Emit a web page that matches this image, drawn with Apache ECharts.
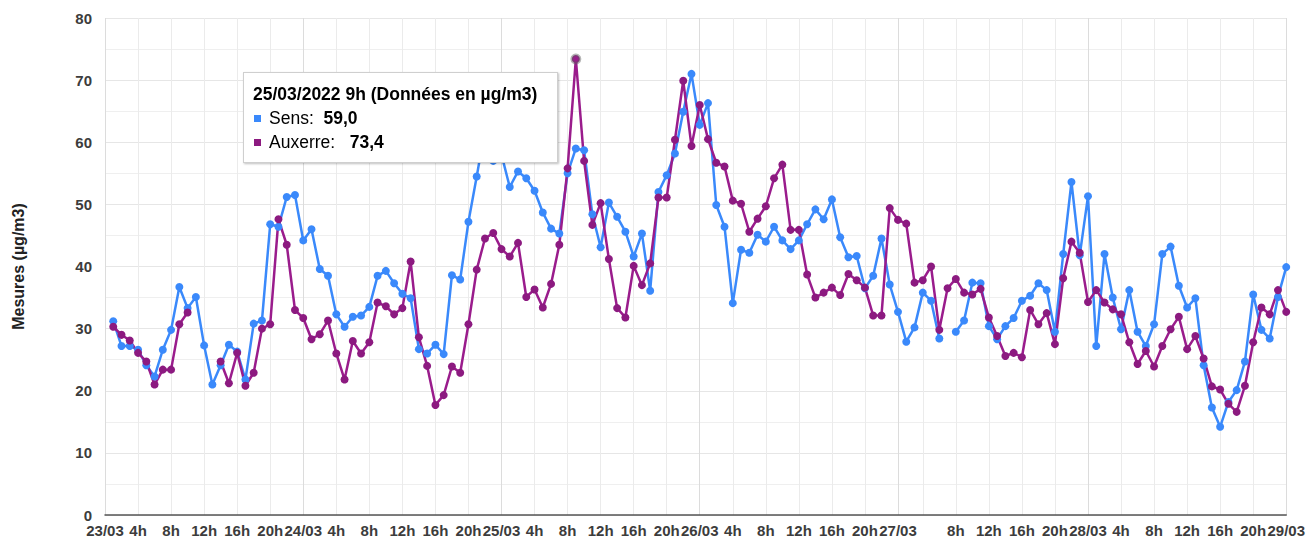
<!DOCTYPE html>
<html><head><meta charset="utf-8">
<script src="https://cdn.jsdelivr.net/npm/echarts@6/dist/echarts.min.js"></script>
<style>html,body{margin:0;padding:0;background:#fff}#c{width:1308px;height:539px}</style>
</head><body><div id="c"></div>
<script>
// Days on the time axis (hourly data, DST change on 27/03 at 2h)
const days = ['23/03', '24/03', '25/03', '26/03', '27/03', '28/03', '29/03'];
const dstSkippedHour = '27/03 2h';
const hiddenTickLabels = ['27/03 4h'];
const tickEveryHours = 4;
const year = '2022';
const seriesNames = ['Sens', 'Auxerre'];
const unitText = 'Données en µg/m3';
const yAxisName = 'Mesures (µg/m3)';
const yTicks = [0, 10, 20, 30, 40, 50, 60, 70, 80];

// Sens hourly values (index 0 = 23/03 0h)
const sens = [null,
  31.2, 27.2, 27.2, 26.6, 24.1, 22.3, 26.6, 29.8, 36.7, 33.3, 35.1, 27.3, 21.0, 24.1, 27.4, 26.3, 21.8, 30.8, 31.3, 46.8, 46.4, 51.2, 51.5, 44.2,
  46.0, 39.6, 38.5, 32.3, 30.3, 31.9, 32.1, 33.5, 38.5, 39.3, 37.3, 35.6, 34.9, 26.7, 26.0, 27.4, 25.9, 38.6, 37.9, 47.2, 54.5, 62.0, 57.0, 58.0,
  52.8, 55.3, 54.2, 52.2, 48.7, 46.1, 45.3, 55.0, 59.0, 58.7, 48.4, 43.1, 50.3, 48.0, 45.6, 41.6, 45.3, 36.1, 52.0, 54.7, 58.2, 64.9, 71.0, 62.8,
  66.3, 49.9, 46.4, 34.1, 42.7, 42.2, 45.1, 44.0, 46.4, 44.2, 42.8, 44.2, 46.8, 49.2, 47.6, 50.8, 44.7, 41.5, 41.7, 36.5, 38.5, 44.5, 37.1, 32.7,
  27.9, 30.2, 35.8, 34.5, 28.4, null, 29.5, 31.3, 37.4, 37.3, 30.4, 28.3, 30.4, 31.7, 34.5, 35.3, 37.3, 36.2, 29.5, 42.0, 53.6, 41.8, 51.3,
  27.2, 42.0, 35.0, 29.9, 36.2, 29.5, 27.2, 30.7, 42.0, 43.2, 36.9, 33.4, 34.9, 24.1, 17.3, 14.2, 18.2, 20.1, 24.7, 35.5, 29.8, 28.4, 35.1, 39.9];

// Auxerre hourly values (index 0 = 23/03 0h)
const auxerre = [null,
  30.3, 29.0, 28.1, 26.1, 24.7, 21.0, 23.4, 23.4, 30.7, 32.6, null, null, null, 24.7, 21.2, 26.1, 20.8, 22.9, 30.0, 30.7, 47.6, 43.5, 33.0, 31.7,
  28.3, 29.1, 31.3, 26.0, 21.8, 28.0, 26.0, 27.8, 34.2, 33.6, 32.3, 33.3, 40.8, 28.6, 24.0, 17.7, 19.3, 23.9, 22.9, 30.7, 39.5, 44.5, 45.4, 42.8,
  41.6, 43.8, 35.1, 36.3, 33.4, 37.2, 43.5, 55.8, 73.4, 57.0, 46.7, 50.2, 41.2, 33.3, 31.8, 40.1, 37.0, 40.5, 51.1, 51.1, 60.4, 69.9, 59.4, 66.0,
  60.5, 56.7, 56.1, 50.6, 50.1, 45.6, 47.7, 49.7, 54.2, 56.4, 45.9, 45.9, 38.7, 35.0, 35.8, 36.6, 35.4, 38.8, 37.8, 36.6, 32.1, 32.1, 49.4, 47.5,
  46.9, 37.4, 37.8, 40.0, 29.8, 36.5, 38.0, 35.8, 35.5, 36.4, 31.8, 28.8, 25.6, 26.1, 25.4, 33.0, 30.7, 32.5, 27.5, 38.1, 44.0, 42.2, 34.3,
  36.2, 34.2, 33.1, 32.3, 27.8, 24.3, 26.4, 23.9, 27.2, 29.9, 31.9, 26.7, 28.8, 25.2, 20.7, 20.2, 17.9, 16.6, 20.8, 27.8, 33.4, 32.3, 36.2, 32.7];

const tooltipIndex = 57; // 25/03 9h

// Build hourly categories (axis categories, not data)
const categories = [];
for (const d of days) {
  for (let h = 0; h < 24; h++) {
    const c = d + ' ' + h + 'h';
    if (c === dstSkippedHour) continue;
    categories.push(c);
    if (d === days[days.length - 1]) break;
  }
}
const dayOf = c => c.split(' ')[0];
const hourOf = c => parseInt(c.split(' ')[1], 10);
const isTick = c => hourOf(c) % tickEveryHours === 0;
const fmt = v => v.toFixed(1).replace('.', ',');

const FONT = "'Liberation Sans', Arial, Helvetica, sans-serif";
const colors = ['#3a89fb', '#8c1a80'];

const chart = echarts.init(document.getElementById('c'), null, {renderer: 'svg'});
chart.setOption({
  animation: false,
  color: colors,
  grid: {left: 105, right: 21, top: 18, bottom: 24, containLabel: false},
  tooltip: {
    trigger: 'item',
    triggerOn: 'none',
    alwaysShowContent: true,
    transitionDuration: 0,
    backgroundColor: '#fff',
    borderColor: '#cfcfcf',
    borderWidth: 1,
    padding: [9, 10, 7, 9],
    extraCssText: 'border-radius:0;box-shadow:1px 1px 2px rgba(0,0,0,0.25);box-sizing:border-box;width:315px;height:91px;',
    position: function () { return [243, 72]; },
    formatter: function (p) {
      const i = p.dataIndex;
      const c = categories[i];
      const title = dayOf(c) + '/' + year + ' ' + hourOf(c) + 'h (' + unitText + ')';
      const vals = [sens[i], auxerre[i]];
      const gaps = ['&nbsp;&nbsp;', '&nbsp;&nbsp;&nbsp;'];
      let html = '<div style="font-family:' + FONT.replace(/'/g, '') + ';font-size:17.5px;line-height:24px;color:#000;">';
      html += '<div style="font-weight:bold;white-space:nowrap;">' + title + '</div>';
      seriesNames.forEach((n, k) => {
        html += '<div style="white-space:nowrap;"><span style="display:inline-block;width:7px;height:7px;background:' + colors[k] +
          ';margin:0 8px 2px 1px;vertical-align:middle;"></span>' + n + ':' + gaps[k] + '<b>' + fmt(vals[k]) + '</b></div>';
      });
      html += '</div>';
      return html;
    }
  },
  xAxis: [{
    type: 'category',
    data: categories,
    boundaryGap: false,
    axisLine: {lineStyle: {color: '#555', width: 1.5}},
    axisTick: {show: false},
    axisLabel: {
      interval: (i, c) => isTick(c) && hiddenTickLabels.indexOf(c) < 0,
      formatter: c => hourOf(c) === 0 ? dayOf(c) : hourOf(c) + 'h',
      color: '#3c3c3c', fontFamily: FONT, fontWeight: 'bold', fontSize: 15, lineHeight: 14, margin: 8
    },
    splitLine: {show: true, interval: (i, c) => isTick(c), lineStyle: {color: '#ebebeb', width: 1}}
  }, {
    type: 'category',
    data: categories,
    boundaryGap: false,
    position: 'bottom',
    axisLine: {show: false},
    axisTick: {show: false},
    axisLabel: {show: false},
    splitLine: {show: true, interval: (i, c) => hourOf(c) === 0, lineStyle: {color: '#dcdcdc', width: 1}}
  }],
  yAxis: {
    type: 'value',
    min: yTicks[0], max: yTicks[yTicks.length - 1], interval: yTicks[1] - yTicks[0],
    name: yAxisName,
    nameLocation: 'middle',
    nameGap: 79,
    nameTextStyle: {color: '#222', fontFamily: FONT, fontWeight: 'bold', fontSize: 16},
    axisLine: {show: false},
    axisTick: {show: false},
    axisLabel: {color: '#3c3c3c', fontFamily: FONT, fontWeight: 'bold', fontSize: 15, lineHeight: 12, margin: 13},
    splitLine: {lineStyle: {color: '#e6e6e6', width: 1}},
    minorTick: {show: false, splitNumber: 2},
    minorSplitLine: {show: true, lineStyle: {color: '#efefef', width: 1}}
  },
  series: [{
    name: seriesNames[0], type: 'line', data: sens,
    symbol: 'circle', symbolSize: 8, showSymbol: true, showAllSymbol: true,
    lineStyle: {width: 2.5}, connectNulls: false,
    emphasis: {disabled: true}
  }, {
    name: seriesNames[1], type: 'line', data: auxerre,
    symbol: 'circle', symbolSize: 8, showSymbol: true, showAllSymbol: true,
    lineStyle: {width: 2.5}, connectNulls: false,
    emphasis: {scale: false, focus: 'none', lineStyle: {width: 2.5},
      itemStyle: {borderColor: 'rgba(90,90,90,0.45)', borderWidth: 3}}
  }]
});
chart.dispatchAction({type: 'highlight', seriesIndex: 1, dataIndex: tooltipIndex});
chart.dispatchAction({type: 'showTip', seriesIndex: 1, dataIndex: tooltipIndex});
</script>
</body></html>
